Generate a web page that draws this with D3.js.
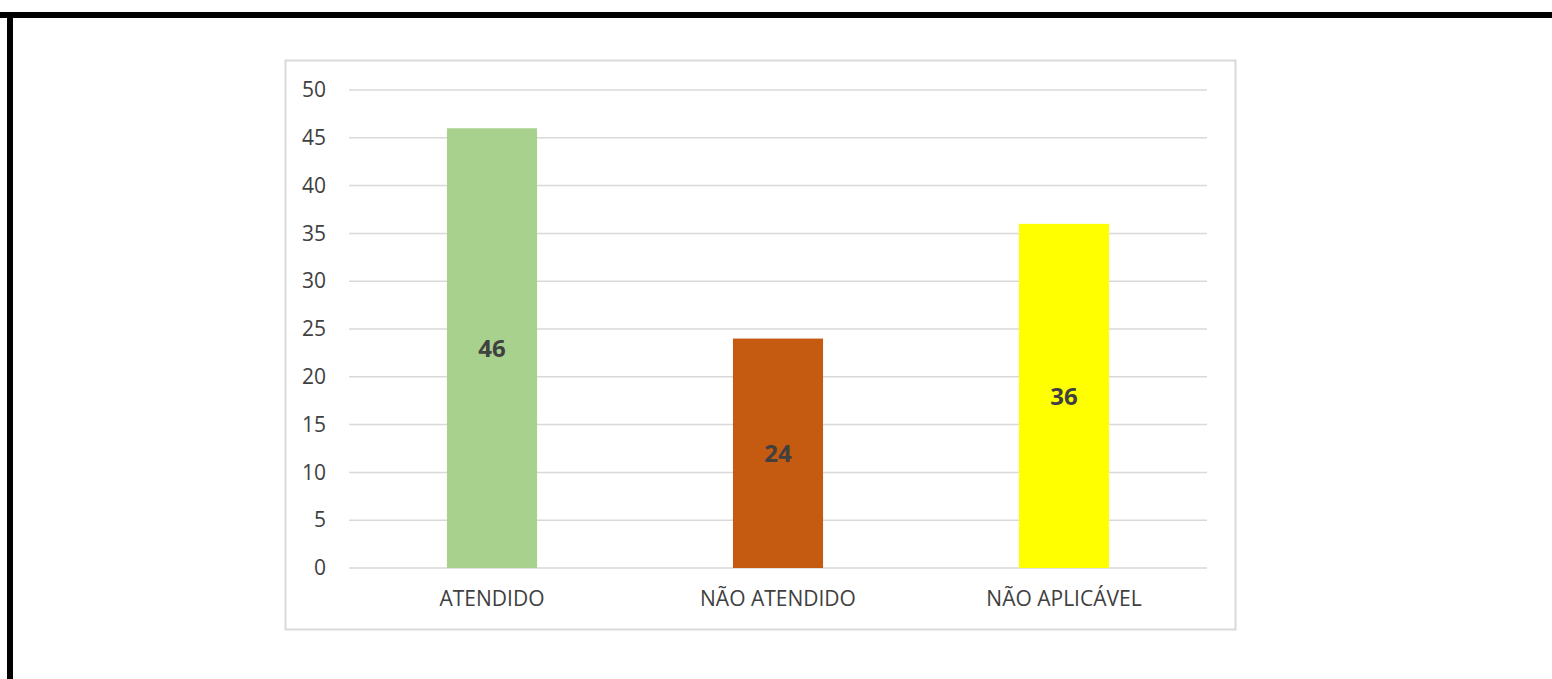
<!DOCTYPE html>
<html><head><meta charset="utf-8">
<script src="https://cdn.jsdelivr.net/npm/d3@7"></script>
<style>html,body{margin:0;padding:0;background:#fff;}svg{display:block;}</style>
</head><body>
<svg id="c" width="1552" height="679"></svg>
<script>
const categories = ["ATENDIDO", "NÃO ATENDIDO", "NÃO APLICÁVEL"];
const values = [46, 24, 36];
const colors = ["#a9d18e", "#c55a11", "#ffff00"];
const yTicks = [0, 5, 10, 15, 20, 25, 30, 35, 40, 45, 50];

const svg = d3.select("#c");
// page frame (black border top & left)
svg.append("rect").attr("x", 0).attr("y", 12).attr("width", 1552).attr("height", 6).attr("fill", "#000");
svg.append("rect").attr("x", 7).attr("y", 12).attr("width", 6).attr("height", 667).attr("fill", "#000");

// chart area box
svg.append("rect").attr("x", 285.5).attr("y", 60.5).attr("width", 950).attr("height", 569)
  .attr("fill", "#fff").attr("stroke", "#d9d9d9").attr("stroke-width", 2);

const x = d3.scaleBand().domain(categories).range([349, 1207]).padding(0);
const y = d3.scaleLinear().domain([0, 50]).range([568, 90]);
const font = "'Open Sans', 'Liberation Sans', sans-serif";

// gridlines
svg.append("g").selectAll("line").data(yTicks).join("line")
  .attr("x1", 349).attr("x2", 1207)
  .attr("y1", d => y(d)).attr("y2", d => y(d))
  .attr("stroke", "#d9d9d9").attr("stroke-width", 1.5);

// y axis labels
const yAxis = d3.axisLeft(y).tickValues(yTicks).tickSize(0).tickPadding(0);
const gy = svg.append("g").attr("transform", "translate(326,0)").call(yAxis);
gy.select(".domain").remove();
gy.selectAll("text").attr("font-family", font).attr("font-size", 21).attr("fill", "#404040");

// bars
const bw = x.bandwidth() * 0.315;
svg.append("g").selectAll("rect").data(values).join("rect")
  .attr("x", (d, i) => x(categories[i]) + x.bandwidth() / 2 - bw / 2)
  .attr("y", d => y(d))
  .attr("width", bw)
  .attr("height", d => y(0) - y(d))
  .attr("fill", (d, i) => colors[i]);

// bar value labels
svg.append("g").selectAll("text").data(values).join("text")
  .attr("x", (d, i) => x(categories[i]) + x.bandwidth() / 2)
  .attr("y", d => (y(d) + y(0)) / 2)
  .attr("dy", "0.36em")
  .attr("text-anchor", "middle")
  .attr("font-family", font).attr("font-weight", "bold").attr("font-size", 24)
  .attr("fill", "#404040")
  .text(d => d);

// x axis labels
const xAxis = d3.axisBottom(x).tickSize(0).tickPadding(0);
const gx = svg.append("g").attr("transform", "translate(0,591)").call(xAxis);
gx.select(".domain").remove();
gx.selectAll("text").attr("font-family", font).attr("font-size", 21).attr("fill", "#404040").attr("dy", "0.71em");
</script>
</body></html>
